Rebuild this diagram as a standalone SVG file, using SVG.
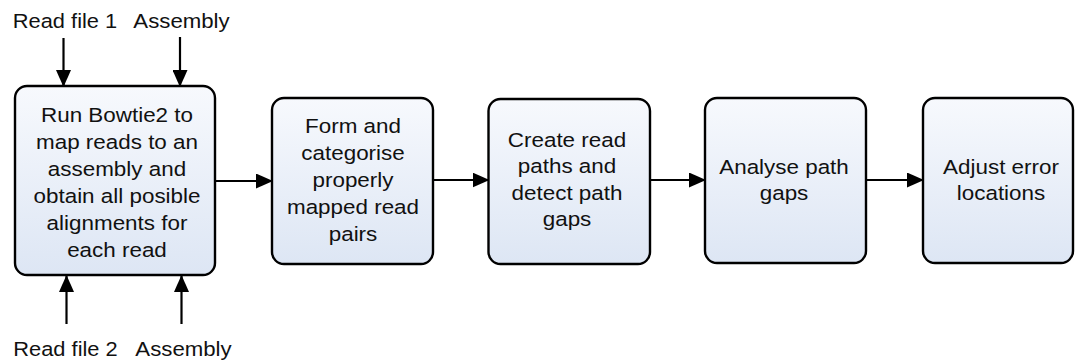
<svg xmlns="http://www.w3.org/2000/svg" width="1075" height="362" viewBox="0 0 1075 362">
<defs>
<linearGradient id="g" x1="0" y1="0" x2="0" y2="1">
<stop offset="0" stop-color="#f7f9fd"/>
<stop offset="1" stop-color="#dde6f4"/>
</linearGradient>
<marker id="ah" markerWidth="17" markerHeight="15" refX="16" refY="7.5" orient="auto" markerUnits="userSpaceOnUse">
<path d="M0,0 L17,7.5 L0,15 Z" fill="#000"/>
</marker>
<style>
.box{fill:url(#g);stroke:#000;stroke-width:2.4}
.t{font-family:"Liberation Sans",Arial,sans-serif;font-size:19.5px;fill:#111;text-anchor:middle}
.c{stroke:#000;stroke-width:2.2;fill:none;marker-end:url(#ah)}
</style>
</defs>
<rect width="1075" height="362" fill="#fff"/>
<g id="labels">
<text class="t" transform="translate(65,0) scale(1.12,1)" x="0" y="28">Read file 1</text>
<text class="t" transform="translate(181.5,0) scale(1.14,1)" x="0" y="28">Assembly</text>
<text class="t" transform="translate(65.5,0) scale(1.12,1)" x="0" y="356">Read file 2</text>
<text class="t" transform="translate(183.5,0) scale(1.14,1)" x="0" y="356">Assembly</text>
</g>
<g id="connectors">
<line class="c" x1="63.5" y1="38" x2="63.5" y2="86"/>
<line class="c" x1="180" y1="37" x2="180" y2="86"/>
<line class="c" x1="66.5" y1="324" x2="66.5" y2="276"/>
<line class="c" x1="181.5" y1="324" x2="181.5" y2="276"/>
<line class="c" x1="215" y1="181" x2="272" y2="181"/>
<line class="c" x1="433" y1="180" x2="488.5" y2="180"/>
<line class="c" x1="650" y1="180" x2="705" y2="180"/>
<line class="c" x1="866" y1="180" x2="923" y2="180"/>
</g>
<g id="n1">
<rect class="box" x="15" y="86" width="200" height="189" rx="12"/>
<text class="t" transform="translate(117,0) scale(1.15,1)"><tspan x="0" y="122">Run Bowtie2 to</tspan><tspan x="0" y="149">map reads to an</tspan><tspan x="0" y="176">assembly and</tspan><tspan x="0" y="203">obtain all posible</tspan><tspan x="0" y="230">alignments for</tspan><tspan x="0" y="257">each read</tspan></text>
</g>
<g id="n2">
<rect class="box" x="272" y="98" width="161" height="166" rx="12"/>
<text class="t" transform="translate(353,0) scale(1.15,1)"><tspan x="0" y="133">Form and</tspan><tspan x="0" y="160">categorise</tspan><tspan x="0" y="187">properly</tspan><tspan x="0" y="214">mapped read</tspan><tspan x="0" y="241">pairs</tspan></text>
</g>
<g id="n3">
<rect class="box" x="488.5" y="99" width="161.5" height="165" rx="12"/>
<text class="t" transform="translate(567,0) scale(1.15,1)"><tspan x="0" y="147">Create read</tspan><tspan x="0" y="173.5">paths and</tspan><tspan x="0" y="200">detect path</tspan><tspan x="0" y="226.5">gaps</tspan></text>
</g>
<g id="n4">
<rect class="box" x="705" y="98" width="161" height="165" rx="12"/>
<text class="t" transform="translate(784,0) scale(1.15,1)"><tspan x="0" y="174.5">Analyse path</tspan><tspan x="0" y="200.5">gaps</tspan></text>
</g>
<g id="n5">
<rect class="box" x="923" y="98" width="150" height="165" rx="12"/>
<text class="t" transform="translate(1001,0) scale(1.15,1)"><tspan x="0" y="174.5">Adjust error</tspan><tspan x="0" y="200.5">locations</tspan></text>
</g>
</svg>
